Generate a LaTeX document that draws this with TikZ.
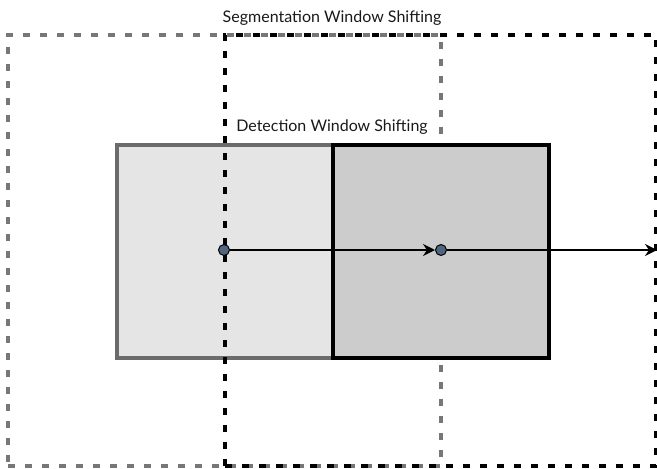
\documentclass[tikz,border=0pt]{standalone}
\usepackage{fontspec}
\setmainfont{Lato}
\usetikzlibrary{arrows.meta}
\definecolor{lightfill}{HTML}{E5E5E5}
\definecolor{darkfill}{HTML}{CCCCCC}
\definecolor{boxgray}{HTML}{6B6B6B}
\definecolor{dashgray}{HTML}{777777}
\definecolor{dotblue}{HTML}{4F6580}
\begin{document}
\begin{tikzpicture}[x=1pt,y=-1pt,
  segwin/.style={draw, rectangle, inner sep=0pt, line width=3.5pt, dash pattern=on 7pt off 10pt},
  detwin/.style={draw, rectangle, inner sep=0pt, line width=4pt, minimum width=216pt, minimum height=213pt},
  dot/.style={circle, draw=black, fill=dotblue, line width=1pt, inner sep=0pt, minimum size=11pt},
  lbl/.style={font=\fontsize{16}{18}\selectfont, inner sep=1pt, text=black!90},
  arr/.style={line width=2pt, -{Stealth[length=12pt,width=12pt,inset=4pt]}}]
\useasboundingbox (0,0) rectangle (657,469);
\node[segwin, draw=dashgray, minimum width=433pt, minimum height=431pt] (sgA) at (224.5,250.5) {};
\node[detwin, draw=boxgray, fill=lightfill] (dA) at (225,251.5) {};
\node[detwin, draw=black, fill=darkfill] (dB) at (441,251.5) {};
\node[segwin, draw=black, minimum width=431pt, minimum height=431pt] (sgB) at (440.5,250.5) {};
\node[lbl] (t1) at (332,18) {Segmentation Window Shifting};
\node[lbl] (t2) at (332,127) {Detection Window Shifting};
\node[dot] (p1) at (224,250) {};
\node[dot] (p2) at (441,250) {};
\coordinate (pe) at (657,250);
\draw[arr] (p1) -- (p2);
\draw[arr] (p2) -- (pe);
\end{tikzpicture}
\end{document}
